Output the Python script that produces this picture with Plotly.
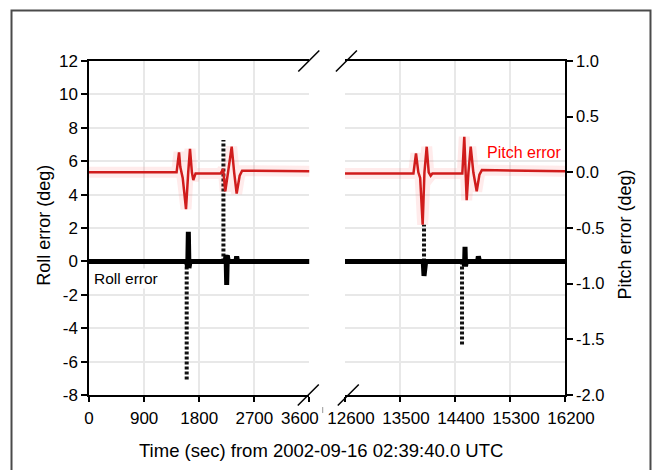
import plotly.graph_objects as go

# ---------------- data ----------------
# Roll error (deg), solid trace
roll_left_t = [0, 1595, 1612, 1622, 1632, 1650, 2225, 2238, 2248, 2258, 2275, 2400, 2411, 2425, 3600]
roll_left_v = [0, 0, -0.4, 1.78, -0.4, 0, 0, 0.4, -1.41, 0.35, 0, 0, 0.3, 0, 0]
roll_right_t = [12600, 13880, 13893, 13906, 13920, 14545, 14556, 14564, 14572, 14585, 14770, 14782, 14800, 16200]
roll_right_v = [0, 0, -0.87, 0, 0, 0, -0.3, 0.88, -0.3, 0, 0, 0.3, 0, 0]
# Roll error large excursions (sparse samples -> dotted)
roll_spike_left_t = [1595, 2195]
roll_spike_left_v = [-7.1, 7.27]
roll_spike_right_t = [13893, 14515]
roll_spike_right_v = [2.2, -5.0]

# Pitch error (deg)
pitch_left_t = [0, 1430, 1470, 1490, 1530, 1584, 1620, 1649, 1680, 1703, 1740, 2150, 2190,
                2225, 2270, 2330, 2370, 2411, 2460, 2500, 3600]
pitch_left_v = [0.0, 0.0, 0.18, 0.05, -0.05, -0.33, 0.0, 0.21, 0.0, -0.07, -0.01, -0.01, 0.03,
                -0.17, 0.0, 0.23, 0.0, -0.19, -0.03, 0.015, 0.01]
pitch_right_t = [12600, 13720, 13762, 13800, 13830, 13871, 13900, 13937, 13970, 14002, 14030, 14520,
                 14552, 14591, 14620, 14657, 14700, 14755, 14800, 14840, 16200]
pitch_right_v = [-0.01, -0.01, 0.17, 0.0, -0.05, -0.47, 0.0, 0.23, 0.0, -0.03, -0.01, -0.01,
                 0.32, -0.25, 0.0, 0.23, 0.0, -0.17, -0.02, 0.02, 0.01]

# ticks
x_left_ticks = [0, 900, 1800, 2700, 3600]
x_left_ticktext = ["0", "900", "1800", "2700", ""]   # "3600" is placed separately (nudged left)
x_left_last_label = "3600"
x_right_ticks = [12600, 13500, 14400, 15300, 16200]
x_right_ticktext = ["12600", "13500", "14400", "15300", "16200"]
roll_ticks = [-8, -6, -4, -2, 0, 2, 4, 6, 8, 10, 12]
roll_ticktext = ["-8", "-6", "-4", "-2", "0", "2", "4", "6", "8", "10", "12"]
pitch_ticks = [-2.0, -1.5, -1.0, -0.5, 0.0, 0.5, 1.0]
pitch_ticktext = ["-2.0", "-1.5", "-1.0", "-0.5", "0.0", "0.5", "1.0"]

FONT = "Liberation Sans, Arial, sans-serif"
GRID = "#e8e8e8"


def spike_xy(ts, vs):
    xs, ys = [], []
    for t, v in zip(ts, vs):
        xs += [t, t, None]
        ys += [0, v, None]
    return xs, ys


fig = go.Figure()

# pitch halo + pitch lines
for t, v, xa, ya in [(pitch_left_t, pitch_left_v, "x", "y2"), (pitch_right_t, pitch_right_v, "x2", "y4")]:
    fig.add_trace(go.Scatter(x=t, y=v, xaxis=xa, yaxis=ya, mode="lines",
                             line=dict(color="rgba(255,110,110,0.14)", width=11), hoverinfo="skip"))
    fig.add_trace(go.Scatter(x=t, y=v, xaxis=xa, yaxis=ya, mode="lines",
                             line=dict(color="#d01c1c", width=2.5), name="Pitch error"))

# roll dotted excursions
sx, sy = spike_xy(roll_spike_left_t, roll_spike_left_v)
fig.add_trace(go.Scatter(x=sx, y=sy, xaxis="x", yaxis="y", mode="lines",
                         line=dict(color="#111111", width=4, dash="3px,2px")))
sx, sy = spike_xy(roll_spike_right_t, roll_spike_right_v)
fig.add_trace(go.Scatter(x=sx, y=sy, xaxis="x2", yaxis="y3", mode="lines",
                         line=dict(color="#111111", width=4, dash="3px,2px")))
# roll solid
fig.add_trace(go.Scatter(x=roll_left_t, y=roll_left_v, xaxis="x", yaxis="y", mode="lines",
                         line=dict(color="black", width=5), name="Roll error"))
fig.add_trace(go.Scatter(x=roll_right_t, y=roll_right_v, xaxis="x2", yaxis="y3", mode="lines",
                         line=dict(color="black", width=5), name="Roll error"))

xcommon = dict(showline=True, linecolor="black", linewidth=1.5, mirror=True,
               ticks="outside", ticklen=5, tickcolor="black", tickwidth=1.5,
               showgrid=True, gridcolor=GRID, gridwidth=2, zeroline=False, ticklabelstandoff=2,
               tickfont=dict(size=17, color="black", family=FONT))

fig.update_layout(
    width=652, height=470,
    margin=dict(l=89, r=87, t=61, b=75),
    paper_bgcolor="white", plot_bgcolor="white",
    showlegend=False,
    font=dict(family=FONT, color="black"),
    xaxis=dict(domain=[0, 0.4632], range=[0, 3600], anchor="y", tickvals=x_left_ticks,
               ticktext=x_left_ticktext, **xcommon),
    xaxis2=dict(domain=[0.5378, 1], range=[12600, 16200], anchor="y3", tickvals=x_right_ticks,
                ticktext=x_right_ticktext, ticklabelshift=6, **xcommon),
    yaxis=dict(domain=[0, 1], range=[-8, 12], anchor="x", tickvals=roll_ticks, ticktext=roll_ticktext,
               showline=True, linecolor="black", linewidth=1.5, ticks="outside", ticklen=6,
               tickcolor="black", tickwidth=1.5, showgrid=True, gridcolor=GRID, gridwidth=2,
               zeroline=False, tickfont=dict(size=17, color="black", family=FONT)),
    yaxis2=dict(overlaying="y", anchor="x", range=[-2, 1], visible=False),
    yaxis3=dict(domain=[0, 1], range=[-8, 12], anchor="x2", tickvals=roll_ticks, showticklabels=False,
                showline=False, ticks="", showgrid=True, gridcolor=GRID, gridwidth=2, zeroline=False),
    yaxis4=dict(overlaying="y3", anchor="x2", side="right", range=[-2, 1], tickvals=pitch_ticks,
                ticktext=pitch_ticktext, showline=True, linecolor="black", linewidth=1.5,
                ticks="outside", ticklen=6, tickcolor="black", tickwidth=1.5, showgrid=False,
                zeroline=False, tickfont=dict(size=16.5, color="black", family=FONT)),
)

# nudged last tick label of the left panel
fig.add_annotation(text=x_left_last_label, xref="paper", yref="paper", x=0.4424, y=-0.069,
                   xanchor="center", yanchor="middle", showarrow=False,
                   font=dict(size=17, color="black"))

# axis titles and series labels
fig.add_annotation(text="Roll error (deg)", xref="paper", yref="paper", x=-0.0952, y=0.509,
                   xanchor="center", yanchor="middle",
                   textangle=-90, showarrow=False, font=dict(size=18, color="black"))
fig.add_annotation(text="Pitch error (deg)", xref="paper", yref="paper", x=1.127, y=0.482,
                   xanchor="center", yanchor="middle",
                   textangle=-90, showarrow=False, font=dict(size=18, color="black"))
fig.add_annotation(text="Time (sec) from 2002-09-16 02:39:40.0 UTC", xref="paper", yref="paper",
                   x=0.487, y=-0.167, xanchor="center", yanchor="middle",
                   showarrow=False, font=dict(size=18.5, color="black"))
fig.add_annotation(text="Roll error", xref="x", yref="y", x=596, y=-1.05, showarrow=False,
                   bgcolor="white", font=dict(size=15.5, color="black"))
fig.add_annotation(text="Pitch error", xref="x2", yref="y4", x=15537, y=0.176, showarrow=False,
                   font=dict(size=16, color="#ff0000"))

# axis-break marks (paper-anchored, pixel-sized so they are not clipped)
for xa, off, ya in [(0.4632, -0.7, 1.0), (0.5378, 1.4, 1.0), (0.4632, -1.2, 0.0), (0.5378, 3.3, 0.0)]:
    fig.add_shape(type="line", xref="paper", yref="paper", xsizemode="pixel", xanchor=xa,
                  x0=off - 10.5, x1=off + 10.5, ysizemode="pixel", yanchor=ya,
                  y0=-10.5, y1=10.5, line=dict(color="black", width=1.5))

# small stray tick between the axis labels
fig.add_shape(type="line", xref="paper", yref="paper", x0=0.491, x1=0.491, y0=-0.036, y1=-0.054,
              line=dict(color="#999999", width=1))

# outer frame
fig.add_shape(type="rect", xref="paper", yref="paper", x0=-0.1628, x1=1.1796, y0=-0.2545, y1=1.1512,
              line=dict(color="#4a4a4a", width=2), fillcolor="rgba(0,0,0,0)")

fig.write_html("out.html")
